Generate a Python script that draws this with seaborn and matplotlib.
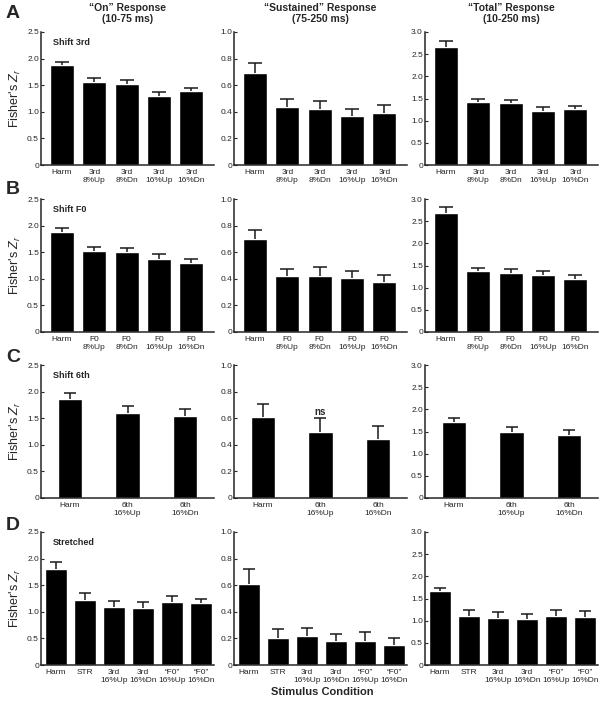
import matplotlib
matplotlib.use('Agg')
import matplotlib.pyplot as plt
import numpy as np
import seaborn as sns

# Stimulus conditions per row
cats_A = ['Harm', '3rd\n8%Up', '3rd\n8%Dn', '3rd\n16%Up', '3rd\n16%Dn']
cats_B = ['Harm', 'F0\n8%Up', 'F0\n8%Dn', 'F0\n16%Up', 'F0\n16%Dn']
cats_C = ['Harm', '6th\n16%Up', '6th\n16%Dn']
cats_D = ['Harm', 'STR', '3rd\n16%Up', '3rd\n16%Dn', '\u201cF0\u201d\n16%Up', '\u201cF0\u201d\n16%Dn']

# Mean Fisher's Z_r and error (upper bar only)
on_A = [1.875, 1.556, 1.53, 1.29, 1.39]
on_A_err = [0.065, 0.075, 0.07, 0.09, 0.06]
sus_A = [0.695, 0.4375, 0.42, 0.365, 0.39]
sus_A_err = [0.075, 0.0625, 0.06, 0.055, 0.06]
tot_A = [2.67, 1.41, 1.395, 1.215, 1.27]
tot_A_err = [0.13, 0.075, 0.075, 0.085, 0.07]

on_B = [1.88, 1.52, 1.50, 1.38, 1.29]
on_B_err = [0.08, 0.08, 0.08, 0.08, 0.09]
sus_B = [0.697, 0.42, 0.424, 0.407, 0.374]
sus_B_err = [0.073, 0.057, 0.061, 0.055, 0.056]
tot_B = [2.68, 1.37, 1.34, 1.295, 1.20]
tot_B_err = [0.13, 0.077, 0.077, 0.085, 0.09]

on_C = [1.86, 1.60, 1.54]
on_C_err = [0.12, 0.12, 0.13]
sus_C = [0.607, 0.50, 0.445]
sus_C_err = [0.103, 0.105, 0.10]
tot_C = [1.72, 1.50, 1.42]
tot_C_err = [0.08, 0.11, 0.11]

on_D = [1.81, 1.22, 1.09, 1.07, 1.19, 1.16]
on_D_err = [0.12, 0.13, 0.12, 0.12, 0.10, 0.09]
sus_D = [0.61, 0.205, 0.218, 0.178, 0.183, 0.148]
sus_D_err = [0.11, 0.065, 0.062, 0.057, 0.062, 0.057]
tot_D = [1.66, 1.11, 1.06, 1.04, 1.095, 1.09]
tot_D_err = [0.08, 0.135, 0.125, 0.12, 0.135, 0.125]

col_titles = ['\u201cOn\u201d Response\n(10-75 ms)',
              '\u201cSustained\u201d Response\n(75-250 ms)',
              '\u201cTotal\u201d Response\n(10-250 ms)']
row_letters = ['A', 'B', 'C', 'D']
row_names = ['Shift 3rd', 'Shift F0', 'Shift 6th', 'Stretched']
yticks_cols = [[0, 0.5, 1.0, 1.5, 2.0, 2.5],
               [0, 0.2, 0.4, 0.6, 0.8, 1.0],
               [0, 0.5, 1.0, 1.5, 2.0, 2.5, 3.0]]

rows = [
    (cats_A, [(on_A, on_A_err), (sus_A, sus_A_err), (tot_A, tot_A_err)]),
    (cats_B, [(on_B, on_B_err), (sus_B, sus_B_err), (tot_B, tot_B_err)]),
    (cats_C, [(on_C, on_C_err), (sus_C, sus_C_err), (tot_C, tot_C_err)]),
    (cats_D, [(on_D, on_D_err), (sus_D, sus_D_err), (tot_D, tot_D_err)]),
]

sns.set_style('ticks')
plt.rcParams['font.family'] = ['Liberation Sans', 'DejaVu Sans']
plt.rcParams['mathtext.fontset'] = 'custom'
plt.rcParams['mathtext.rm'] = 'Liberation Sans'
plt.rcParams['mathtext.it'] = 'Liberation Sans:italic'

W, H = 602, 705
fig = plt.figure(figsize=(W / 100, H / 100), dpi=100)

lefts = [41, 234, 425]
bottoms = [165, 332, 498, 665]
ax_w, ax_h = 173, 133
letter_y = [13, 190, 358, 525]

for r, (cats, series) in enumerate(rows):
    n = len(cats)
    if n == 3:
        bw, xl, cap = 0.42, (-0.5, 2.5), 4.5
    elif n == 6:
        bw, xl, cap = 0.75, (-0.52, 5.45), 4.0
    else:
        bw, xl, cap = 0.75, (-0.65, 4.7), 5.0
    for c, (vals, errs) in enumerate(series):
        ax = fig.add_axes([lefts[c] / W, 1 - bottoms[r] / H, ax_w / W, ax_h / H])
        sns.barplot(x=cats, y=vals, color='black', saturation=1, width=bw,
                    errorbar=None, ax=ax)
        eb = ax.errorbar(np.arange(n), vals, yerr=[np.zeros(n), errs], fmt='none',
                         ecolor='#1a1a1a', elinewidth=1.1, capsize=cap, capthick=1.1)
        # only the upper cap is shown
        eb[1][0].set_visible(False)
        yt = yticks_cols[c]
        ax.set_ylim(0, yt[-1])
        ax.set_xlim(*xl)
        ax.set_yticks(yt)
        ax.set_yticklabels(['0' if v == 0 else f'{v:.1f}' for v in yt])
        ax.tick_params(axis='y', direction='in', length=2.5, width=0.8,
                       labelsize=6, pad=1.5)
        ax.tick_params(axis='x', length=0, labelsize=6, pad=3)
        for lab in ax.get_xticklabels():
            lab.set_linespacing(1.25)
        sns.despine(ax=ax)
        ax.spines['left'].set_linewidth(1.1)
        ax.spines['bottom'].set_linewidth(1.1)
        ax.set_xlabel('')
        if c == 0:
            ax.set_ylabel("Fisher's $Z_r$", fontsize=9, labelpad=3)
            ax.text(0.07, 0.92, row_names[r], transform=ax.transAxes,
                    fontsize=6.5, fontweight='bold', va='center', ha='left')
        else:
            ax.set_ylabel('')
        if r == 0:
            ax.set_title(col_titles[c], fontsize=7.5, fontweight='bold',
                         pad=7, linespacing=1.1)
        if r == 2 and c == 1:
            ax.text(1, vals[1] + errs[1] + 0.04, 'ns', ha='center', va='center',
                    fontsize=7, fontweight='bold')
    fig.text(6 / W, 1 - letter_y[r] / H, row_letters[r], fontsize=14,
             fontweight='bold', ha='left', va='center')

fig.text(322 / W, 1 - 692 / H, 'Stimulus Condition', fontsize=8,
         fontweight='bold', ha='center', va='center')

fig.savefig('out.png', dpi=100)
